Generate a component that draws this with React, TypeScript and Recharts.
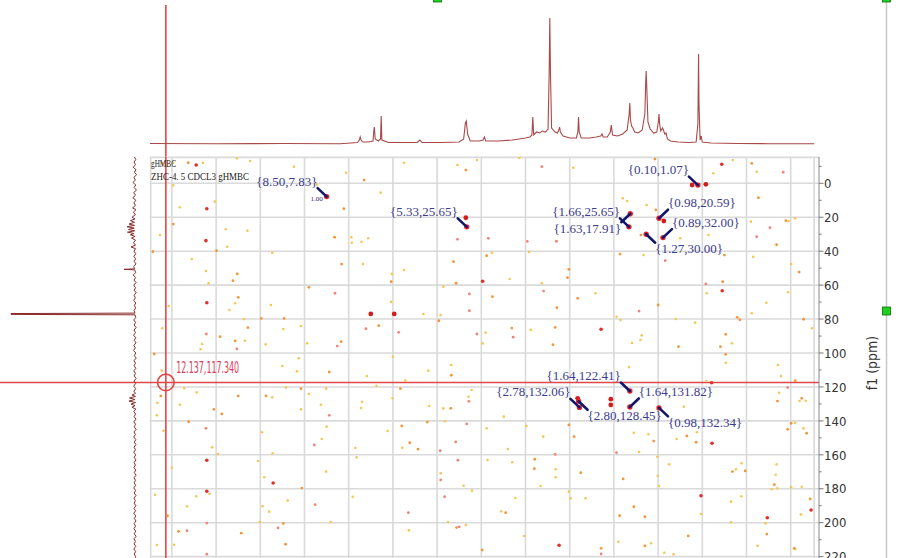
import React from 'react';
import { ScatterChart, Scatter, XAxis, YAxis, CartesianGrid, ReferenceLine } from 'recharts';

// ---------------- axes ----------------
const F2_DOMAIN: [number, number] = [-2.64, 12.5];   // 1H (ppm), drawn reversed
const F1_DOMAIN: [number, number] = [-15.5, 220.8];  // 13C (ppm), drawn reversed
const F2_GRID = [-2, -1, 0, 1, 2, 3, 4, 5, 6, 7, 8, 9, 10, 11, 12];
const F2_FRAME = [12.48, -2.53];
const F1_TICKS = [-10, 0, 10, 20, 30, 40, 50, 60, 70, 80, 90, 100, 110, 120, 130, 140, 150, 160, 170, 180, 190, 200, 210, 220];
const F1_LABELED = [0, 20, 40, 60, 80, 100, 120, 140, 160, 180, 200, 220];
const F1_FRAME = [-15.3];
const F1_TITLE = 'f1 (ppm)';

const CROSS_F2 = 12.137;
const CROSS_F1 = 117.34;
const CROSS_LABEL = '12.137,117.340';

const HEADER_1 = 'gHMBC';
const HEADER_2 = 'ZHC-4. 5 CDCL3 gHMBC';

// ---------------- 1H projection (ppm, intensity) ----------------
const protonTrace: [number, number][] = [
  [12.5, 0.5], [11, 0.3], [9.5, 0.5], [8.2, 0.3], [7.95, 1], [7.8, 1.5], [7.76, 4], [7.74, 7], [7.72, 4], [7.68, 2],
  [7.56, 2], [7.45, 3], [7.43, 14], [7.42, 17], [7.4, 5], [7.33, 3], [7.28, 5], [7.265, 28], [7.25, 4], [7.1, 1.5],
  [6.8, 1.5], [6.45, 1.5], [6.39, 4], [6.34, 1.5], [5.9, 1.5], [5.5, 2], [5.4, 5], [5.36, 21], [5.34, 23], [5.31, 10],
  [5.25, 3], [5.05, 3], [4.96, 4], [4.93, 7], [4.9, 3], [4.6, 3], [4.3, 4], [4.14, 5], [4.0, 6], [3.9, 7],
  [3.855, 9], [3.835, 27], [3.815, 9], [3.75, 12], [3.68, 11], [3.62, 13], [3.55, 12], [3.49, 15], [3.465, 70], [3.45, 126],
  [3.435, 70], [3.41, 16], [3.33, 12], [3.28, 11], [3.245, 14], [3.23, 17], [3.21, 12], [3.15, 8], [3.0, 6], [2.85, 6],
  [2.815, 12], [2.8, 27], [2.785, 12], [2.74, 6], [2.55, 6], [2.4, 7], [2.3, 8], [2.27, 10], [2.24, 7], [2.15, 7],
  [2.08, 12], [2.06, 19], [2.03, 9], [1.92, 8], [1.8, 10], [1.7, 14], [1.655, 30], [1.64, 41], [1.625, 24], [1.6, 18],
  [1.57, 16], [1.53, 12], [1.45, 11], [1.36, 14], [1.3, 30], [1.28, 62], [1.27, 73], [1.255, 55], [1.23, 22], [1.18, 15],
  [1.1, 11], [1.03, 12], [0.995, 22], [0.98, 30], [0.965, 20], [0.94, 13], [0.9, 16], [0.88, 14], [0.85, 10], [0.82, 11],
  [0.79, 5], [0.72, 3], [0.55, 2], [0.3, 1.5], [0.14, 2], [0.1, 20], [0.085, 90], [0.075, 40], [0.05, 4], [0.025, 8],
  [0.0, 2], [-0.2, 1], [-0.8, 0.5], [-1.5, 0.3], [-2.53, 0.3],
];

// ---------------- 13C projection (ppm, intensity) ----------------
const carbonTrace: [number, number][] = [
  [-15.5, 0.5], [-14, -0.8], [-12.5, 1], [-11, -0.5], [-9.5, 1.8], [-8, -1], [-6.5, 0.6], [-5, -1.6], [-3.5, 1.2], [-2, -0.4],
  [-0.5, 2], [1, -0.8], [2.5, 0.9], [4, -1.5], [5.5, 1.4], [7, -0.6], [8.5, 2.2], [10, -0.9], [11.5, 1.1], [13, -0.5],
  [14.5, 2.5], [15.5, -1], [17, 1.6], [18.5, -0.4], [20, 3], [21, 0], [22, 4.5], [23, 0.5], [24, 6], [24.8, 0.5],
  [25.6, 8], [26.4, 0.8], [27.2, 6.5], [28, 0.3], [28.8, 7.5], [29.6, 1], [30.4, 4.5], [31.3, 0], [32.3, 3.5], [33.5, -0.5],
  [35, 1.5], [36.5, -0.5], [37.5, 4], [38.5, -0.5], [40, 1], [41.5, -0.8], [43, 1.2], [44.5, -0.6], [46, 0.9], [47.5, -1],
  [49, 1.3], [50.4, 0.5], [50.7, 11], [51, 0.5], [52.5, -0.8], [54, 1.8], [55.5, -0.6], [57, 1], [58.5, -1], [60, 1.2],
  [61.5, -0.5], [63, 0.8], [64.5, -1.2], [66, 1], [67.5, -0.4], [69, 1.3], [70.5, -0.8], [72, 0.7], [73.5, -0.6], [75, 1],
  [76.5, 0], [76.75, 124], [77.25, 124], [77.5, 0], [79, -0.8], [80.5, 1.2], [82, -0.6], [83.5, 0.9], [85, -1.1], [86.5, 1],
  [88, -0.5], [89.5, 1.4], [91, -0.7], [92.5, 0.8], [94, -1], [95.5, 1.1], [97, -0.4], [98.5, 1.6], [100, -0.8], [101.5, 0.7],
  [103, -1.2], [104.5, 1], [106, -0.5], [107.5, 0.9], [109, -0.9], [110.5, 1.2], [112, -0.4], [113.5, 0.8], [115, -1.1], [116.5, 1],
  [118, -0.6], [119.5, 1.3], [121, -0.7], [122.5, 1.1], [123.8, -0.5], [124.8, 3], [125.6, -0.5], [126.5, 5.5], [127.4, 0], [128.3, 6],
  [129.2, -0.5], [130.1, 4], [131, 0], [132, 3], [133, -0.8], [134.5, 1.2], [136, -0.6], [137.5, 0.9], [139, -1], [140.5, 1.1],
  [142, -0.5], [143.5, 0.8], [145, -1.1], [146.5, 1], [148, -0.4], [149.5, 1.2], [151, -0.8], [152.5, 0.7], [154, -0.9], [155.5, 1],
  [157, -0.5], [158.5, 1.3], [160, -0.7], [161.5, 0.8], [163, -1], [164.5, 0.9], [166, -0.4], [167.5, 1.1], [169, -0.8], [170.5, 0.7],
  [172, -1.1], [173.5, 1], [175, -0.5], [176.5, 0.9], [178, -0.7], [179.5, 1.2], [181, -0.6], [182.5, 0.8], [184, -1], [185.5, 1.1],
  [187, -0.4], [188.5, 0.9], [190, -0.9], [191.5, 1], [193, -0.5], [194.5, 1.2], [196, -0.8], [197.5, 0.7], [199, -1], [200.5, 0.9],
  [202, -0.6], [203.5, 1.1], [205, -0.7], [206.5, 0.8], [208, -1.1], [209.5, 1], [211, -0.4], [212.5, 0.9], [214, -0.8], [215.5, 1.2],
  [217, -0.6], [218.5, 0.8], [220, -0.7], [220.8, 0],
];

// ---------------- labelled HMBC cross peaks ----------------
const peakLabels = ['{8.50,7.83}', '{5.33,25.65}', '{0.10,1.07}', '{0.98,20.59}', '{0.89,32.00}', '{1.27,30.00}', '{1.66,25.65}', '{1.63,17.91}', '{1.64,122.41}', '{1.64,131.82}', '{2.78,132.06}', '{2.80,128.45}', '{0.98,132.34}'];
const peakF2 = [8.5, 5.33, 0.1, 0.98, 0.89, 1.27, 1.66, 1.63, 1.64, 1.64, 2.78, 2.8, 0.98];
const peakF1 = [7.83, 25.65, 1.07, 20.59, 32.0, 30.0, 25.65, 17.91, 122.41, 131.82, 132.06, 128.45, 132.34];
const peakIntegral = ['1.00', '', '', '', '', '', '', '', '', '', '', '', ''];
const labelSide = ['NW', 'NW', 'NW', 'NE', 'NE', 'SE', 'NW', 'SW', 'NW', 'NE', 'NW', 'SE', 'SE'];

// other strong cross peaks (f2, f1)
const otherPeaks: [number, number][] = [[7.5, 77.0], [6.97, 77.0], [2.07, 127.2], [2.07, 130.6], [2.82, 126.7], [5.35, 20.3], [0.87, 22.2], [-0.08, 0.6], [0.23, 1.0]];

// ---------------- t1 noise (f2, f1) ----------------
const noiseYellow: [number, number][] = [
  [10.75, 37.4], [11.55, 44.6], [11.23, 51.7], [11.17, 58.9], [9.73, 40.9], [7.68, 47.6], [7.93, 35.0], [7.71, 34.4], [7.02, 53.4], [6.75, 51.1],
  [5.86, 60.9], [10.57, 70.7], [9.76, 71.7], [10.7, 74.7], [12.07, 72.3], [7.04, 69.9], [6.31, 77.0], [5.92, 77.6], [10.37, 80.0], [9.48, 85.9],
  [9.08, 84.1], [12.22, 85.4], [10.35, 92.8], [11.32, 94.7], [11.35, 97.8], [9.88, 94.9], [8.94, 94.3], [4.97, 94.3], [9.13, 103.1], [7.0, 102.2],
  [9.5, 107.7], [9.17, 110.8], [7.59, 113.6], [6.2, 110.4], [5.68, 107.1], [6.72, 116.3], [12.23, 110.4], [9.42, 120.4], [8.51, 121.0], [7.37, 119.3],
  [5.22, 121.8], [11.72, 120.8], [11.44, 123.2], [9.73, 126.1], [8.9, 124.2], [7.01, 126.7], [5.29, 125.8], [12.33, 129.3], [11.82, 130.5], [12.34, 136.7],
  [9.08, 133.2], [8.63, 130.5], [7.7, 128.7], [7.72, 132.4], [6.18, 131.2], [5.86, 132.6], [12.19, 145.8], [9.96, 146.7], [8.5, 143.4], [7.12, 146.0],
  [5.82, 140.2], [8.61, 150.7], [11.09, 155.6], [7.85, 156.0], [6.79, 155.8], [10.96, 159.5], [9.72, 159.1], [10.05, 163.6], [7.82, 161.5], [12.0, 167.6],
  [8.51, 169.9], [5.92, 170.9], [9.91, 173.2], [5.4, 178.2], [5.21, 181.1], [11.15, 183.1], [12.38, 183.5], [11.45, 184.4], [7.91, 184.7], [9.38, 187.0],
  [11.66, 190.3], [9.95, 190.3], [9.8, 193.5], [10.01, 199.6], [8.41, 199.6], [5.75, 199.6], [5.35, 201.4], [6.64, 204.5], [12.34, 213.1], [11.95, 213.0],
  [4.76, 40.9], [3.92, 40.5], [1.33, 42.3], [-1.15, 43.3], [-2.01, 47.6], [4.36, 56.4], [3.63, 58.9], [-0.1, 64.8], [2.42, 64.8], [-1.94, 64.2],
  [-1.45, 70.4], [-1.12, 76.6], [1.94, 78.6], [1.85, 80.6], [0.6, 80.0], [0.16, 82.1], [4.9, 88.0], [3.88, 86.4], [1.37, 89.6], [1.4, 92.3],
  [-2.48, 85.4], [1.59, 94.1], [-0.67, 94.3], [-0.53, 105.7], [1.66, 108.3], [-1.71, 107.1], [-1.78, 113.6], [-0.09, 116.5], [-1.74, 123.4], [4.49, 137.5],
  [4.88, 144.4], [3.98, 143.0], [3.6, 149.3], [4.4, 156.6], [4.86, 163.1], [4.3, 164.4], [3.32, 168.5], [3.32, 173.2], [3.66, 178.4], [1.43, 158.3],
  [1.55, 147.0], [1.22, 147.9], [0.58, 150.7], [0.12, 146.7], [0.42, 131.6], [-2.2, 128.3], [-2.1, 141.1], [1.02, 161.1], [0.75, 165.6], [-0.89, 165.0],
  [-0.76, 168.5], [-1.68, 165.6], [-1.66, 171.7], [-1.57, 180.3], [-1.7, 179.7], [-2.01, 179.1], [-2.25, 178.8], [1.01, 172.3], [0.98, 178.4], [3.02, 181.7],
  [2.98, 185.6], [2.64, 185.6], [4.23, 185.4], [4.55, 193.3], [-0.65, 187.6], [-0.88, 184.4], [0.03, 194.9], [-1.43, 200.4], [-0.65, 199.8], [-2.23, 195.1],
  [4.03, 207.8], [1.9, 211.2], [1.16, 212.1], [-1.25, 213.6], [-2.1, 215.5], [0.86, 217.7], [0.65, 218.6], [11.97, -12.1], [11.3, -12.1], [10.53, -14.7],
  [10.23, -13.1], [11.97, 1.2], [9.24, -9.8], [8.72, 0.8], [8.06, -6.2], [7.28, 5.5], [6.75, -12.1], [5.54, -10.8], [5.1, -13.7], [11.82, 14.1],
  [11.03, 10.8], [10.78, 27.1], [10.29, 27.9], [7.94, 31.8], [7.56, 32.4], [-0.69, -13.7], [-1.23, -6.8], [2.92, -9.2], [-0.25, -5.9], [1.8, 8.8],
  [1.7, 10.4], [1.26, 12.8], [0.5, 32.4], [0.13, 25.6], [-0.14, 30.5], [-1.1, 22.6], [-1.95, 22.2], [-2.1, 20.6], [3.31, 34.0], [-2.34, 128.1],
  [-2.29, 144.4], [12.21, -11.8], [12.27, 30.5], [4.14, -14.9],
];
const noiseOrange: [number, number][] = [
  [10.99, 39.7], [12.43, 40.3], [10.52, 53.4], [10.62, 57.4], [8.16, 47.6], [7.04, 58.0], [5.63, 46.2], [5.57, 58.9], [8.9, 61.3], [10.5, 67.2],
  [5.96, 81.0], [9.98, 79.6], [9.46, 79.6], [10.28, 85.1], [7.32, 83.9], [10.91, 90.4], [10.57, 92.8], [8.17, 93.3], [12.4, 100.6], [8.44, 111.2],
  [5.68, 113.1], [9.08, 121.0], [6.83, 121.0], [10.5, 125.3], [9.87, 125.3], [12.25, 125.3], [11.05, 133.2], [10.87, 135.9], [5.69, 132.6], [11.62, 140.5],
  [6.8, 143.0], [6.22, 140.7], [6.62, 152.9], [6.43, 156.7], [9.06, 179.6], [12.1, 195.9], [9.48, 200.4], [5.56, 202.9], [11.85, 205.1], [10.43, 206.2],
  [9.43, 212.7], [4.98, 216.1], [4.88, 42.7], [1.86, 41.7], [-0.5, 42.3], [-1.68, 36.2], [-2.19, 52.3], [3.02, 50.7], [3.05, 55.6], [-0.46, 58.0],
  [4.75, 66.8], [2.82, 67.8], [1.0, 71.7], [3.29, 73.3], [-0.79, 79.0], [-0.85, 80.4], [-2.29, 80.1], [4.31, 85.3], [3.33, 84.9], [-0.53, 89.0],
  [3.38, 95.1], [0.54, 96.3], [-0.41, 96.3], [-0.53, 100.8], [-2.1, 116.3], [-2.25, 126.7], [3.02, 142.4], [2.9, 149.3], [3.79, 162.6], [3.8, 168.2],
  [2.75, 170.5], [1.1, 151.9], [0.35, 148.9], [0.14, 152.6], [-1.7, 128.3], [-2.01, 141.4], [-1.93, 145.0], [-2.36, 147.3], [-0.68, 169.9], [-0.97, 169.5],
  [-1.63, 177.6], [1.79, 174.2], [4.45, 194.1], [1.55, 190.6], [1.87, 195.9], [1.3, 196.5], [-2.44, 186.0], [2.29, 215.1], [1.3, 213.7], [0.32, 207.8],
  [-1.46, 206.7], [11.63, -12.1], [7.65, -1.9], [5.35, -7.8], [11.97, 24.0], [8.11, 15.0], [8.32, 31.8], [1.07, -14.3], [-1.12, -11.8], [1.05, 15.7],
  [1.39, 30.5], [-1.27, 8.5], [-1.89, 22.0], [-2.08, 215.1],
];
const noisePink: [number, number][] = [
  [8.31, 64.8], [5.27, 65.2], [5.27, 75.1], [7.61, 85.7], [6.87, 87.8], [11.22, 88.8], [10.53, 97.6], [8.26, 95.9], [5.1, 88.8], [8.44, 136.7],
  [5.28, 128.5], [11.23, 144.4], [5.33, 141.8], [8.78, 154.2], [5.58, 152.4], [5.93, 157.6], [5.53, 163.2], [5.92, 174.8], [5.83, 184.7], [8.76, 189.4],
  [6.65, 194.1], [11.21, 200.2], [9.6, 203.1], [5.5, 202.4], [11.66, 204.7], [11.21, 218.6], [3.96, 34.2], [3.3, 34.2], [0.84, 45.6], [3.59, 63.5],
  [-0.08, 59.3], [1.43, 75.3], [4.28, 90.7], [3.33, 159.7], [1.94, 158.7], [2.29, 218.4], [5.54, 33.0], [4.84, 32.4], [-1.83, -6.5], [3.63, -9.8],
  [-1.53, 26.2], [-1.23, 31.5], [-1.93, 120.4],
];
const noiseRed: [number, number][] = [
  [11.23, 33.8], [4.97, 57.7], [11.21, 70.4], [11.21, 163.2], [9.71, 176.6], [11.21, 181.5], [-0.45, 63.3], [2.29, 86.0], [-0.21, 117.5], [-0.22, 153.2],
  [0.03, 184.1], [-1.47, 197.1], [-2.46, 192.5], [3.24, 213.3], [11.45, -10.8], [11.21, 15.0], [-0.44, -11.2],
];

// ---------------- styling ----------------
const W = 900;
const H = 558;
const PLOT_LEFT = 149.8;
const PLOT_TOP = 157;
const AXIS_W = 81;
const NARROW = '"Liberation Sans Narrow", "DejaVu Sans Condensed", "Arial Narrow", sans-serif';
const SERIF = '"Liberation Serif", "DejaVu Serif", serif';
const CROSS_COLOR = '#e04848';
const GRID_COLOR = '#dadada';
const SIDE_VEC: Record<string, [number, number]> = { NW: [-1, -1], NE: [1, -1], SE: [1, 1], SW: [-1, 1] };

const pts = (a: [number, number][]) => a.map(([x, y]) => ({ x, y }));
const swapPts = (a: [number, number][]) => a.map(([y, x]) => ({ x, y }));

const annotations = peakLabels.map((label, i) => ({ x: peakF2[i], y: peakF1[i], label, side: labelSide[i], sub: peakIntegral[i] }));

const dot = (fill: string, r: number) => (p: any) => <circle cx={p.cx} cy={p.cy} r={r} fill={fill} />;
const noShape = () => <g />;

const AnnotShape = (p: any) => {
  const { cx, cy, payload } = p;
  const [sx, sy] = SIDE_VEC[payload.side];
  const ax = cx + sx * 9;
  const ay = cy + sy * 8.5;
  const tx = cx + sx * 9;
  const ty = cy + (sy < 0 ? -11 : 19);
  return (
    <g>
      <line x1={ax} y1={ay} x2={cx} y2={cy} stroke="#15156c" strokeWidth={2.6} strokeLinecap="round" />
      <text x={tx} y={ty} textAnchor={sx < 0 ? 'end' : 'start'} fontFamily={SERIF} fontSize={13} fill="#3b3b8d">{payload.label}</text>
      {payload.sub ? (
        <text x={cx - 10} y={cy + 4} textAnchor="middle" fontFamily={SERIF} fontSize={7} fill="#2b2b7a">{payload.sub}</text>
      ) : null}
    </g>
  );
};

const CrossShape = (p: any) => (
  <g>
    <circle cx={p.cx} cy={p.cy} r={8.3} fill="none" stroke={CROSS_COLOR} strokeWidth={1.6} />
    <text x={p.cx + 10.3} y={p.cy - 9.6} fontFamily={NARROW} fontSize={15} fill="#dc3b5a" textLength={63} lengthAdjust="spacingAndGlyphs">{CROSS_LABEL}</text>
  </g>
);

const F1Tick = (props: any) => {
  const { x, y, payload } = props;
  const v = payload.value;
  const major = F1_LABELED.includes(v);
  return (
    <g>
      <line x1={x} x2={x + (major ? 4.5 : 2.5)} y1={y} y2={y} stroke="#777" strokeWidth={1} />
      {major ? (
        <text x={x + 5} y={y + 4.7} fontFamily={NARROW} fontSize={13} fill="#333">{v}</text>
      ) : null}
    </g>
  );
};

export default function App() {
  return (
    <div style={{ position: 'absolute', left: 0, top: 0, width: W, height: H, background: '#fff', overflow: 'hidden' }}>
      {/* 1H projection */}
      <div style={{ position: 'absolute', left: 0, top: 0 }}>
        <ScatterChart width={W} height={PLOT_TOP} margin={{ top: 5, right: AXIS_W, bottom: 0, left: PLOT_LEFT }}>
          <XAxis type="number" dataKey="x" domain={F2_DOMAIN} reversed hide allowDataOverflow />
          <YAxis type="number" dataKey="y" domain={[-13, 139]} hide allowDataOverflow />
          <Scatter data={pts(protonTrace)} line={{ stroke: '#a94848', strokeWidth: 1.1 }} lineType="joint" shape={noShape} isAnimationActive={false} />
          <ReferenceLine x={CROSS_F2} stroke={CROSS_COLOR} strokeWidth={1.6} />
        </ScatterChart>
      </div>
      {/* 13C projection */}
      <div style={{ position: 'absolute', left: 0, top: 0 }}>
        <ScatterChart width={150} height={H} margin={{ top: PLOT_TOP, right: 0, bottom: 0, left: 0 }}>
          <XAxis type="number" dataKey="x" domain={[-15, 135]} reversed hide allowDataOverflow />
          <YAxis type="number" dataKey="y" domain={F1_DOMAIN} reversed hide allowDataOverflow />
          <Scatter data={swapPts(carbonTrace)} line={{ stroke: '#8a2b2b', strokeWidth: 1 }} lineType="joint" shape={noShape} isAnimationActive={false} />
          <ReferenceLine y={CROSS_F1} stroke={CROSS_COLOR} strokeWidth={1.6} />
        </ScatterChart>
      </div>
      {/* 2D HMBC */}
      <div style={{ position: 'absolute', left: 0, top: 0 }}>
        <ScatterChart width={W} height={H} margin={{ top: PLOT_TOP, right: 0, bottom: 0, left: PLOT_LEFT }}>
          <CartesianGrid
            stroke={GRID_COLOR}
            strokeWidth={1.6}
            vertical={false}
            horizontalValues={[...F1_LABELED, ...F1_FRAME]}
          />
          <XAxis type="number" dataKey="x" domain={F2_DOMAIN} reversed hide allowDataOverflow />
          <YAxis
            type="number"
            dataKey="y"
            orientation="right"
            width={AXIS_W}
            domain={F1_DOMAIN}
            reversed
            ticks={F1_TICKS}
            interval={0}
            tickSize={0}
            tickMargin={0}
            tickLine={false}
            tick={F1Tick}
            axisLine={{ stroke: '#888', strokeWidth: 1 }}
            allowDataOverflow
          />
          {[...F2_GRID, ...F2_FRAME].map((v) => (
            <ReferenceLine key={'g' + v} x={v} stroke={GRID_COLOR} strokeWidth={1.6} />
          ))}
          <Scatter data={pts(noiseYellow)} shape={dot('#f6c555', 1.3)} isAnimationActive={false} />
          <Scatter data={pts(noiseOrange)} shape={dot('#f2963c', 1.4)} isAnimationActive={false} />
          <Scatter data={pts(noisePink)} shape={dot('#ef8477', 1.4)} isAnimationActive={false} />
          <Scatter data={pts(noiseRed)} shape={dot('#e0302a', 1.8)} isAnimationActive={false} />
          <Scatter data={pts(otherPeaks)} shape={dot('#d41c1c', 2.4)} isAnimationActive={false} />
          <Scatter data={pts(annotations.map((a) => [a.x, a.y] as [number, number]))} shape={dot('#e3262b', 2.7)} isAnimationActive={false} />
          <ReferenceLine x={CROSS_F2} stroke={CROSS_COLOR} strokeWidth={1.6} />
          <ReferenceLine y={CROSS_F1} stroke={CROSS_COLOR} strokeWidth={1.6} />
          <Scatter data={annotations} shape={AnnotShape} isAnimationActive={false} />
          <Scatter data={[{ x: CROSS_F2, y: CROSS_F1 }]} shape={CrossShape} isAnimationActive={false} />
        </ScatterChart>
      </div>
      {/* frame decorations */}
      <svg width={W} height={H} style={{ position: 'absolute', left: 0, top: 0, pointerEvents: 'none' }}>
        <text x={151} y={166.5} fontFamily={SERIF} fontSize={10} fill="#222" textLength={25} lengthAdjust="spacingAndGlyphs">{HEADER_1}</text>
        <text x={151} y={179.5} fontFamily={SERIF} fontSize={10} fill="#222" textLength={98} lengthAdjust="spacingAndGlyphs">{HEADER_2}</text>
        <text x={877} y={363} transform="rotate(-90 877 363)" textAnchor="middle" fontFamily={NARROW} fontSize={14} fill="#333">{F1_TITLE}</text>
        <line x1={886.5} x2={886.5} y1={0} y2={H} stroke="#c8c8c8" strokeWidth={1.5} />
        <rect x={433.5} y={-6} width={8} height={8} fill="#1fd11f" stroke="#0a6a0a" strokeWidth={0.8} />
        <rect x={882.5} y={-6} width={8} height={8} fill="#1fd11f" stroke="#0a6a0a" strokeWidth={0.8} />
        <rect x={882.5} y={307} width={8} height={8} fill="#1fd11f" stroke="#0a6a0a" strokeWidth={0.8} />
      </svg>
    </div>
  );
}
